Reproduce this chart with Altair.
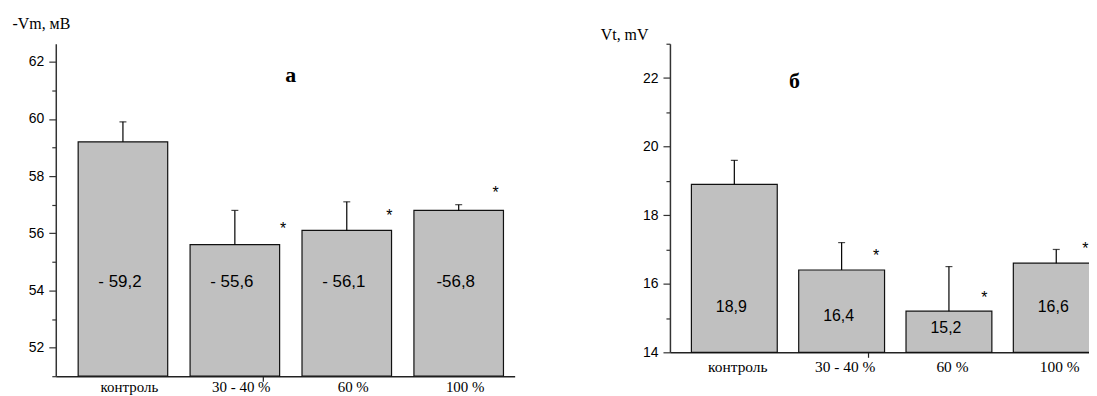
import json
import altair as alt
import pandas as pd

# ---- data ----
cats = ["контроль", "30 - 40 %", "60 %", "100 %"]
pos = [1, 2, 3, 4]

vm_values = [59.2, 55.6, 56.1, 56.8]
vm_err_top = [59.9, 56.8, 57.1, 57.0]
vm_labels = ["- 59,2", "- 55,6", "- 56,1", "-56,8"]
vm_label_y = [54.29, 54.29, 54.29, 54.29]
vm_star_x = [2.43, 3.38, 4.33]
vm_star_y = [56.26, 56.71, 57.51]

vt_values = [18.9, 16.4, 15.2, 16.6]
vt_err_top = [19.6, 17.2, 16.5, 17.0]
vt_labels = ["18,9", "16,4", "15,2", "16,6"]
vt_label_y = [15.32, 15.05, 14.71, 15.32]
vt_star_x = [2.32, 3.33, 4.27]
vt_star_y = [16.90, 15.68, 17.10]

panel_titles = ["а", "б"]
panel_title_x = [2.5, 1.56]
panel_title_y = [61.55, 21.9]

y_titles = ["-Vm, мВ", "Vt, mV"]

SERIF = "Liberation Serif"
SANS = "Liberation Sans"
names_js = json.dumps(cats, ensure_ascii=False)


def panel(values, errs, labels, label_y, star_x, star_y, title, tx, ty,
          ytitle, ydomain, yticks, width, height, title_x, title_y,
          xlab_size, xlab_pad, xlab_off, val_size):
    df = pd.DataFrame({"pos": pos, "value": values, "err": errs,
                       "label": labels, "label_y": label_y})
    sdf = pd.DataFrame({"sx": star_x, "sy": star_y})
    tdf = pd.DataFrame({"tx": [tx], "ty": [ty], "t": [title]})

    xscale = alt.Scale(domain=[0.4, 4.5], nice=False, zero=False)
    yscale = alt.Scale(domain=ydomain, nice=False, zero=False)
    xaxis = alt.Axis(
        values=[1, 2, 2.25, 3, 4],
        labelExpr="datum.value == 2.25 ? '' : " + names_js + "[datum.value - 1]",
        tickSize={"condition": {"test": "datum.value == 2.25", "value": 5}, "value": 0},
        tickColor="#222", tickWidth=1.2,
        domainColor="#222", domainWidth=1.5,
        labelFont=SERIF, labelFontSize=xlab_size, labelColor="#000",
        labelPadding=xlab_pad, labelOffset=xlab_off, labelOverlap=False,
        labelFlush=False, grid=False, title="",
    )
    yaxis = alt.Axis(
        values=yticks,
        labelExpr="datum.value % 2 == 0 ? datum.label : ''",
        tickSize={"condition": {"test": "datum.value % 2 != 0", "value": 4}, "value": 7},
        tickColor="#333", tickWidth=1.2,
        domainColor="#333", domainWidth=1.5,
        labelFont=SANS, labelFontSize=14, labelColor="#000", labelPadding=5,
        labelOverlap=False, grid=False,
        title=ytitle, titleAngle=0, titleAlign="left", titleBaseline="alphabetic",
        titleX=title_x, titleY=title_y, titleFont=SERIF, titleFontSize=16,
        titleFontWeight="normal", titleColor="#000",
    )

    base = alt.Chart(df)
    bars = base.mark_bar(color="#c0c0c0", stroke="#111", strokeWidth=1.2).transform_calculate(
        x1="datum.pos - 0.4", x2="datum.pos + 0.4"
    ).encode(
        x=alt.X("x1:Q", scale=xscale, axis=xaxis),
        x2="x2:Q",
        y=alt.Y("value:Q", scale=yscale, axis=yaxis),
        y2=alt.datum(ydomain[0]),
    )
    rule = base.mark_rule(color="#000", strokeWidth=1.2).encode(
        x=alt.X("pos:Q", scale=xscale, axis=xaxis),
        y=alt.Y("value:Q", scale=yscale, axis=yaxis),
        y2="err:Q",
    )
    cap = base.mark_tick(orient="horizontal", size=7, thickness=1.2, color="#000").encode(
        x=alt.X("pos:Q", scale=xscale, axis=xaxis),
        y=alt.Y("err:Q", scale=yscale, axis=yaxis),
    )
    txt = base.mark_text(font=SANS, fontSize=val_size, color="#000",
                         baseline="middle", dx=-3).encode(
        x=alt.X("pos:Q", scale=xscale, axis=xaxis),
        y=alt.Y("label_y:Q", scale=yscale, axis=yaxis),
        text="label:N",
    )
    stars = alt.Chart(sdf).mark_text(text="*", font=SANS, fontSize=16, color="#000",
                                     baseline="middle", dy=3).encode(
        x=alt.X("sx:Q", scale=xscale, axis=xaxis),
        y=alt.Y("sy:Q", scale=yscale, axis=yaxis),
    )
    ttl = alt.Chart(tdf).mark_text(font=SERIF, fontSize=22, fontWeight="bold",
                                   color="#000", baseline="middle").encode(
        x=alt.X("tx:Q", scale=xscale, axis=xaxis),
        y=alt.Y("ty:Q", scale=yscale, axis=yaxis),
        text="t:N",
    )
    return alt.layer(bars, rule, cap, txt, stars, ttl).properties(width=width, height=height)


left = panel(vm_values, vm_err_top, vm_labels, vm_label_y, vm_star_x, vm_star_y,
             panel_titles[0], panel_title_x[0], panel_title_y[0],
             y_titles[0], [51, 62.63], list(range(51, 63)), 461, 334, -44, -15,
             15, 3, 6, 17)
right = panel(vt_values, vt_err_top, vt_labels, vt_label_y, vt_star_x, vt_star_y,
              panel_titles[1], panel_title_x[1], panel_title_y[1],
              y_titles[1], [14, 23], list(range(14, 24)), 442, 310, -70, -4,
              15.5, 7, 3, 16)

chart = alt.hconcat(left, right, spacing=156, bounds="flush").configure_view(
    stroke=None
).properties(padding={"left": 4, "top": 7, "right": -21, "bottom": -2})

chart.save("out.html", embed_options={"renderer": "svg", "actions": False})
